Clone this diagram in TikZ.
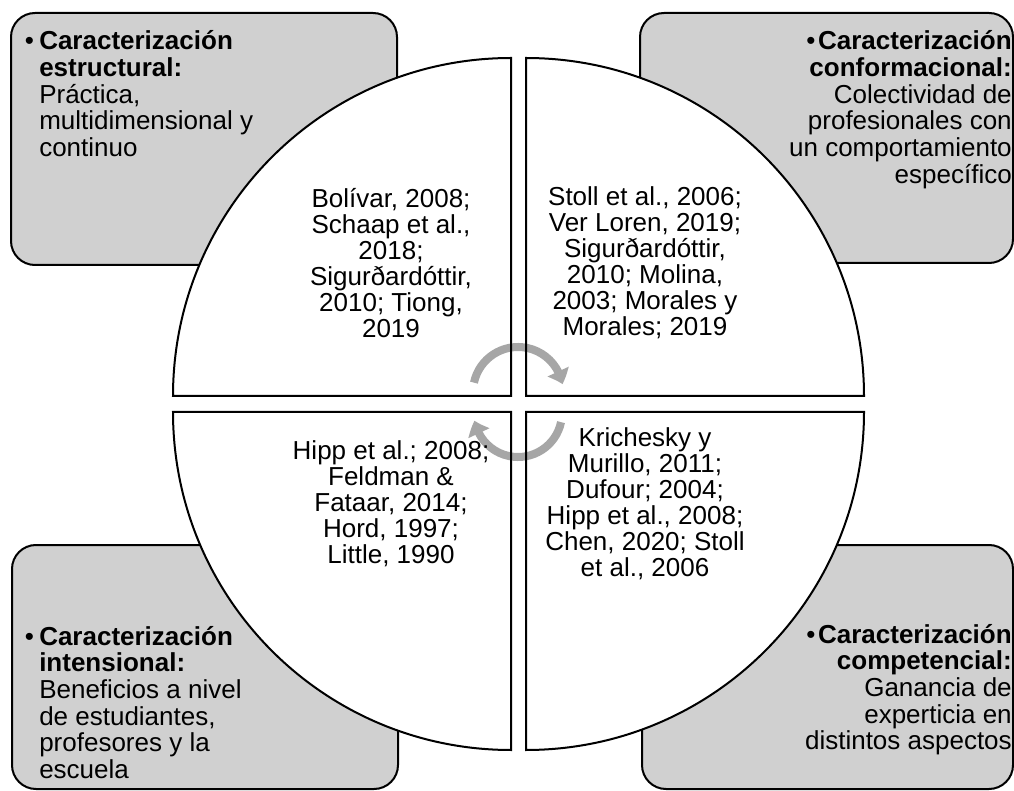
\documentclass[tikz,border=0pt]{standalone}
\usepackage{fontspec}
\setmainfont{Liberation Sans}
\usetikzlibrary{arrows.meta,bending}
\definecolor{boxgray}{RGB}{208,208,208}
\definecolor{cyclegray}{RGB}{166,166,166}

\begin{document}
\begin{tikzpicture}[x=0.75pt, y=0.75pt,
  card/.style={draw, line width=1.5pt, fill=boxgray, rounded corners=18pt},
  turnarrow/.style={cyclegray, line width=6pt, -{Triangle[width=17pt,length=10pt,bend]}},
  cardtext/.style={inner sep=0pt, text width=230pt, font=\fontsize{19.5}{20}\selectfont},
  refs/.style={inner sep=0pt, align=center, font=\fontsize{19.5}{19.5}\selectfont}]
  \useasboundingbox (0,0) rectangle (1014,790);
  \draw[card] (11,525) rectangle (397,777);
  \draw[card] (640,527) rectangle (1013,777);
  \draw[card] (12,1) rectangle (398,245);
  \draw[card] (642,1) rectangle (1013,245);
  \foreach \cx/\cy/\a in {511/394/180, 526/394/90, 526/378/0, 511/378/-90}
    \fill[white] (\cx,\cy) -- ++(\a:338) arc[start angle=\a, delta angle=-90, radius=338] -- cycle;
  \draw[turnarrow] (518,398) ++(168:45) arc[start angle=168, end angle=10, radius=45];
  \draw[turnarrow] (518,377) ++(-12:44) arc[start angle=-12, end angle=-170, radius=44];
  \foreach \cx/\cy/\a in {511/394/180, 526/394/90, 526/378/0, 511/378/-90}
    \draw[line width=1.5pt] (\cx,\cy) -- ++(\a:338) arc[start angle=\a, delta angle=-90, radius=338] -- cycle;
  \node[cardtext, align=flush left, anchor=base west] (estructural) at (39,740)
    {\llap{•\hspace{4pt}}\textbf{Caracterización}\\ \textbf{estructural:}\\ Práctica,\\ multidimensional y\\ continuo};
  \node[cardtext, align=flush right, anchor=base east] (conformacional) at (1012,740)
    {•\hspace{2pt}\textbf{Caracterización}\\ \textbf{conformacional:}\\ Colectividad de\\ profesionales con\\ un comportamiento\\ específico};
  \node[cardtext, align=flush left, anchor=base west] (intensional) at (39,145)
    {\llap{•\hspace{4pt}}\textbf{Caracterización}\\ \textbf{intensional:}\\ Beneficios a nivel\\ de estudiantes,\\ profesores y la\\ escuela};
  \node[cardtext, align=flush right, anchor=base east] (competencial) at (1012,147)
    {•\hspace{2pt}\textbf{Caracterización}\\ \textbf{competencial:}\\ Ganancia de\\ experticia en\\ distintos aspectos};
  \node[refs] (bolivar) at (391,527) {Bolívar, 2008;\\ Schaap et al.,\\ 2018;\\ Sigurðardóttir,\\ 2010; Tiong,\\ 2019};
  \node[refs] (stoll) at (645,527) {Stoll et al., 2006;\\ Ver Loren, 2019;\\ Sigurðardóttir,\\ 2010; Molina,\\ 2003; Morales y\\ Morales; 2019};
  \node[refs] (hipp) at (391,286) {Hipp et al.; 2008;\\ Feldman \&\\ Fataar, 2014;\\ Hord, 1997;\\ Little, 1990};
  \node[refs] (krichesky) at (645,286) {Krichesky y\\ Murillo, 2011;\\ Dufour; 2004;\\ Hipp et al., 2008;\\ Chen, 2020; Stoll\\ et al., 2006};
\end{tikzpicture}
\end{document}
